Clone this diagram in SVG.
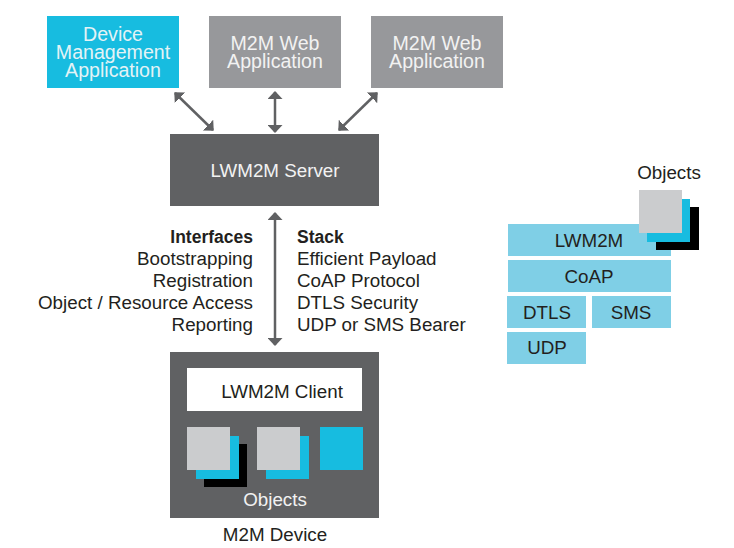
<svg xmlns="http://www.w3.org/2000/svg" width="734" height="548" viewBox="0 0 734 548">
<style>
text{font-family:"Liberation Sans",Arial,sans-serif;font-size:18.8px;fill:#231f20}
.c{text-anchor:middle}.r{text-anchor:end}.b{font-weight:bold;font-size:17.5px}
.t{font-size:19.6px}
.l{fill:#e4f3f6}.wl{fill:#f2f2f2}
.cy{fill:#17bce0}.gr{fill:#97989b}.dk{fill:#606163}.lg{fill:#cbccce}.bk{fill:#000}.st{fill:#7fcfe6}
.cn{stroke:#606163;stroke-width:2.5;fill:none;marker-start:url(#h);marker-end:url(#h)}
</style>
<defs><marker id="h" viewBox="0 0 8 15" refX="7" refY="7.5" markerUnits="userSpaceOnUse" markerWidth="8" markerHeight="15" orient="auto-start-reverse"><path d="M0 0L8 7.5L0 15Z" fill="#606163"/></marker></defs>
<rect width="734" height="548" fill="#fff"/>
<g id="connectors">
<line class="cn" x1="275" y1="92" x2="275" y2="132"/>
<line class="cn" x1="275" y1="213" x2="275" y2="345"/>
<line class="cn" x1="175" y1="93" x2="213" y2="130"/>
<line class="cn" x1="377" y1="93" x2="339" y2="130"/>
</g>
<g id="device-mgmt"><rect class="cy" x="47" y="16" width="132" height="72"/><text class="c l t" x="113" y="41">Device</text><text class="c l t" x="113" y="59">Management</text><text class="c l t" x="113" y="77">Application</text></g>
<g id="web-app-1"><rect class="gr" x="209" y="16" width="132" height="72"/><text class="c wl t" x="275" y="50">M2M Web</text><text class="c wl t" x="275" y="68">Application</text></g>
<g id="web-app-2"><rect class="gr" x="371" y="16" width="132" height="72"/><text class="c wl t" x="437" y="50">M2M Web</text><text class="c wl t" x="437" y="68">Application</text></g>
<g id="server"><rect class="dk" x="170" y="134" width="209" height="72"/><text class="c wl" x="275" y="177">LWM2M Server</text></g>
<g id="interfaces">
<text class="r b" x="253" y="243">Interfaces</text>
<text class="r" x="253" y="265">Bootstrapping</text>
<text class="r" x="253" y="287">Registration</text>
<text class="r" x="253" y="309">Object / Resource Access</text>
<text class="r" x="253" y="331">Reporting</text>
</g>
<g id="stack">
<text class="b" x="297" y="243">Stack</text>
<text x="297" y="265">Efficient Payload</text>
<text x="297" y="287">CoAP Protocol</text>
<text x="297" y="309">DTLS Security</text>
<text x="297" y="331">UDP or SMS Bearer</text>
</g>
<g id="device">
<rect class="dk" x="170" y="352" width="209" height="166"/>
<rect x="187" y="368" width="175" height="43" fill="#fff"/>
<text class="c" x="282" y="398">LWM2M Client</text>
<rect class="bk" x="204" y="444" width="43" height="43"/>
<rect class="cy" x="196" y="436" width="43" height="43"/>
<rect class="lg" x="187" y="427" width="43" height="43"/>
<rect class="cy" x="266" y="436" width="43" height="43"/>
<rect class="lg" x="257" y="427" width="43" height="43"/>
<rect class="cy" x="320" y="427" width="43" height="43"/>
<text class="c wl" x="275" y="506">Objects</text>
</g>
<g id="device-label"><text class="c" x="275" y="541">M2M Device</text></g>
<g id="stack-lwm2m"><rect class="st" x="508" y="224" width="163" height="32"/><text class="c" x="589" y="247">LWM2M</text></g>
<g id="stack-coap"><rect class="st" x="508" y="260" width="163" height="32"/><text class="c" x="589" y="283">CoAP</text></g>
<g id="stack-dtls"><rect class="st" x="507" y="296" width="79" height="32"/><text class="c" x="547" y="319">DTLS</text></g>
<g id="stack-sms"><rect class="st" x="592" y="296" width="79" height="32"/><text class="c" x="631" y="319">SMS</text></g>
<g id="stack-udp"><rect class="st" x="507" y="332" width="79" height="32"/><text class="c" x="547" y="354">UDP</text></g>
<g id="stack-objects">
<text class="c" x="669" y="179">Objects</text>
<rect class="bk" x="656" y="207" width="43" height="43"/>
<rect class="cy" x="647" y="199" width="43" height="43"/>
<rect class="lg" x="639" y="190" width="43" height="43"/>
</g>
</svg>
